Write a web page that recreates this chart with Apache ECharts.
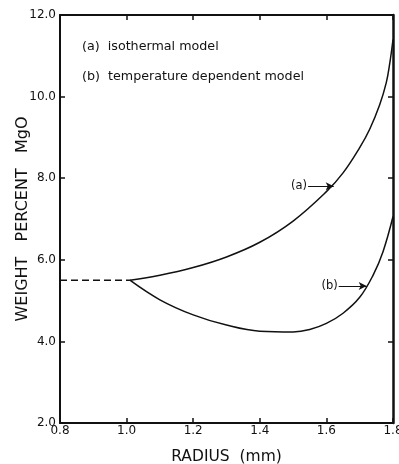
<!DOCTYPE html>
<html>
<head>
<meta charset="utf-8">
<script src="https://cdn.jsdelivr.net/npm/echarts@6/dist/echarts.min.js"></script>
<style>
  html, body { margin: 0; padding: 0; background: #fff; }
  #chart { width: 399px; height: 464px; }
</style>
</head>
<body>
<div id="chart"></div>
<script>
// Initial (uniform) composition before the profile starts
const radiusInitial = [0.8, 1.01];
const mgoInitial = [5.5, 5.5];

// (a) isothermal model
const radiusA = [1.01, 1.1, 1.2, 1.3, 1.4, 1.5, 1.6, 1.65, 1.7, 1.73, 1.76, 1.78, 1.79, 1.8];
const mgoA = [5.5, 5.62, 5.81, 6.07, 6.43, 6.95, 7.67, 8.13, 8.75, 9.2, 9.8, 10.35, 10.8, 11.4];

// (b) temperature dependent model
const radiusB = [1.01, 1.1, 1.2, 1.3, 1.4, 1.5, 1.55, 1.6, 1.65, 1.7, 1.74, 1.77, 1.8];
const mgoB = [5.5, 5.02, 4.65, 4.4, 4.25, 4.23, 4.29, 4.44, 4.69, 5.08, 5.62, 6.2, 7.06];

// Axis ticks
const xTicks = [0.8, 1.0, 1.2, 1.4, 1.6, 1.8];
const yTicks = [2, 4, 6, 8, 10, 12];

// Curve labels with arrow pointers: [label, arrow start x, arrow end x, y]
const pointerA = ['(a)', 1.545, 1.622, 7.8];
const pointerB = ['(b)', 1.637, 1.721, 5.36];

const legendLines = ['(a)  isothermal model', '(b)  temperature dependent model'];

const FONT = '"DejaVu Sans", sans-serif';
const ink = '#111';

const pairs = (xs, ys) => xs.map((x, i) => [x, ys[i]]);

function pointer(p) {
  return {
    silent: true,
    symbol: ['none', 'arrow'],
    symbolSize: [6, 8],
    lineStyle: { color: ink, width: 1, type: 'solid' },
    label: {
      show: true, position: 'start', formatter: p[0], distance: 1,
      color: ink, fontFamily: FONT, fontSize: 11.5
    },
    data: [[{ coord: [p[1], p[3]] }, { coord: [p[2], p[3]] }]]
  };
}

const boxAxisLine = { show: true, lineStyle: { color: ink, width: 2 } };
const inTicks = { show: true, inside: true, length: 5, lineStyle: { color: ink, width: 1.5 } };

const chart = echarts.init(document.getElementById('chart'), null, { renderer: 'canvas' });
chart.setOption({
  animation: false,
  backgroundColor: '#fff',
  grid: { left: 60, right: 6, top: 15, bottom: 41, containLabel: false, outerBoundsMode: 'none' },
  xAxis: [
    {
      type: 'value', min: xTicks[0], max: xTicks[xTicks.length - 1], interval: 0.2,
      position: 'bottom',
      axisLine: boxAxisLine, axisTick: inTicks, splitLine: { show: false },
      axisLabel: {
        color: ink, fontFamily: FONT, fontSize: 12, margin: 2,
        formatter: v => v.toFixed(1)
      },
      name: 'RADIUS  (mm)', nameLocation: 'middle', nameGap: 26, nameMoveOverlap: false,
      nameTextStyle: { color: ink, fontFamily: FONT, fontSize: 15.5 }
    },
    {
      type: 'value', min: xTicks[0], max: xTicks[xTicks.length - 1], interval: 0.2,
      position: 'top',
      axisLine: boxAxisLine, axisTick: inTicks, splitLine: { show: false },
      axisLabel: { show: false }
    }
  ],
  yAxis: [
    {
      type: 'value', min: yTicks[0], max: yTicks[yTicks.length - 1], interval: 2,
      position: 'left',
      axisLine: boxAxisLine, axisTick: inTicks, splitLine: { show: false },
      axisLabel: {
        color: ink, fontFamily: FONT, fontSize: 12, margin: 4,
        formatter: v => v.toFixed(1)
      },
      name: 'WEIGHT   PERCENT   MgO', nameLocation: 'middle', nameGap: 29, nameMoveOverlap: false,
      nameTextStyle: { color: ink, fontFamily: FONT, fontSize: 16 }
    },
    {
      type: 'value', min: yTicks[0], max: yTicks[yTicks.length - 1], interval: 2,
      position: 'right',
      axisLine: { show: true, lineStyle: { color: ink, width: 2.5 } },
      axisTick: inTicks, splitLine: { show: false },
      axisLabel: { show: false }
    }
  ],
  graphic: legendLines.map((t, i) => ({
    type: 'text', left: 82, top: 40 + i * 30,
    style: { text: t, fill: ink, font: '12.7px ' + FONT }
  })),
  series: [
    {
      type: 'line', data: pairs(radiusInitial, mgoInitial),
      showSymbol: false, silent: true,
      lineStyle: { color: ink, width: 1.5, type: [7, 4] }
    },
    {
      type: 'line', data: pairs(radiusA, mgoA), smooth: 0.4,
      showSymbol: false, silent: true,
      lineStyle: { color: ink, width: 1.5 },
      markLine: pointer(pointerA)
    },
    {
      type: 'line', data: pairs(radiusB, mgoB), smooth: 0.4,
      showSymbol: false, silent: true,
      lineStyle: { color: ink, width: 1.5 },
      markLine: pointer(pointerB)
    }
  ]
});
</script>
</body>
</html>
